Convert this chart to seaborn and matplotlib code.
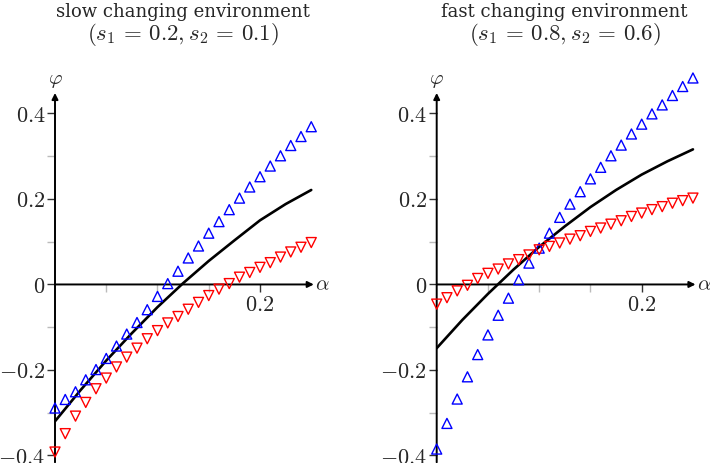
import pandas as pd
import matplotlib.pyplot as plt
import seaborn as sns

# ------------------------------
# Data
# ------------------------------
alpha = [0.00, 0.01, 0.02, 0.03, 0.04, 0.05, 0.06, 0.07, 0.08, 0.09,
         0.10, 0.11, 0.12, 0.13, 0.14, 0.15, 0.16, 0.17, 0.18, 0.19,
         0.20, 0.21, 0.22, 0.23, 0.24, 0.25]
alpha_line = [0.0, 0.025, 0.05, 0.075, 0.1, 0.125, 0.15, 0.175, 0.2, 0.225, 0.25]

slow_up = [-0.289, -0.269, -0.251, -0.223, -0.199, -0.173, -0.144, -0.116, -0.089, -0.059,
           -0.028, 0.002, 0.031, 0.062, 0.090, 0.120, 0.147, 0.175, 0.202, 0.228,
           0.252, 0.277, 0.301, 0.325, 0.346, 0.369]
slow_down = [-0.392, -0.349, -0.308, -0.276, -0.244, -0.219, -0.193, -0.170, -0.149, -0.127,
             -0.108, -0.090, -0.075, -0.058, -0.042, -0.026, -0.011, 0.002, 0.017, 0.028,
             0.040, 0.051, 0.064, 0.076, 0.087, 0.098]
slow_line = [-0.320, -0.247, -0.178, -0.114, -0.053, 0.003, 0.055, 0.103, 0.150, 0.188, 0.221]

fast_up = [-0.385, -0.325, -0.268, -0.216, -0.164, -0.118, -0.072, -0.032, 0.011, 0.050,
           0.085, 0.120, 0.157, 0.188, 0.217, 0.247, 0.274, 0.301, 0.326, 0.352,
           0.375, 0.399, 0.420, 0.442, 0.463, 0.483]
fast_down = [-0.046, -0.031, -0.015, -0.002, 0.014, 0.026, 0.036, 0.048, 0.058, 0.069,
             0.081, 0.089, 0.097, 0.106, 0.114, 0.124, 0.132, 0.141, 0.149, 0.159,
             0.167, 0.175, 0.182, 0.190, 0.196, 0.202]
fast_line = [-0.149, -0.083, -0.022, 0.035, 0.088, 0.136, 0.181, 0.221, 0.257, 0.288, 0.316]

titles = ["slow changing environment", "fast changing environment"]
subtitles = [r"$(s_1\,=\,0.2, s_2\,=\,0.1)$", r"$(s_1\,=\,0.8, s_2\,=\,0.6)$"]

yticks = [-0.4, -0.2, 0.0, 0.2, 0.4]
ytick_labels = [r"$-0.4$", r"$-0.2$", r"$0$", r"$0.2$", r"$0.4$"]
yminor = [-0.3, -0.1, 0.1, 0.3]
xticks = [0.2]
xtick_labels = [r"$0.2$"]
xminor = [0.05, 0.1, 0.15]

# ------------------------------
# Style
# ------------------------------
sns.set_theme(style="white")
plt.rcParams["font.family"] = ["DejaVu Serif"]
plt.rcParams["mathtext.fontset"] = "cm"

fig = plt.figure(figsize=(7.1, 4.63), dpi=100)

XMAX, YMIN, YMAX = 0.27, -0.416, 0.50
panels = [
    (55, slow_up, slow_down, slow_line),
    (436.7, fast_up, fast_down, fast_line),
]

for i, (x0, up, down, line) in enumerate(panels):
    ax = fig.add_axes([x0 / 710, 0.0015, 276.75 / 710, 0.8458])
    ax.set_xlim(0, XMAX)
    ax.set_ylim(YMIN, YMAX)

    df_pts = pd.DataFrame({"alpha": alpha, "up": up, "down": down})
    df_line = pd.DataFrame({"alpha": alpha_line, "phi": line})

    sns.lineplot(data=df_line, x="alpha", y="phi", color="black", linewidth=1.9, ax=ax, zorder=3)
    sns.scatterplot(data=df_pts, x="alpha", y="up", marker="^", s=52, facecolor="none",
                    edgecolor="blue", linewidth=1.0, ax=ax, zorder=4, clip_on=False)
    sns.scatterplot(data=df_pts, x="alpha", y="down", marker="v", s=52, facecolor="none",
                    edgecolor="red", linewidth=1.0, ax=ax, zorder=4, clip_on=False)

    # axes with arrows
    for s in ax.spines.values():
        s.set_visible(False)
    ax.spines["bottom"].set_position(("data", 0))
    ax.annotate("", xy=(0.2525, 0), xytext=(0, 0),
                arrowprops=dict(arrowstyle="-|>", color="black", lw=1.4,
                                mutation_scale=9, shrinkA=0, shrinkB=0), zorder=2)
    ax.annotate("", xy=(0, 0.448), xytext=(0, YMIN),
                arrowprops=dict(arrowstyle="-|>", color="black", lw=1.4,
                                mutation_scale=9, shrinkA=0, shrinkB=0),
                annotation_clip=False, zorder=2)
    ax.text(0.2535, 0, r"$\alpha$", fontsize=15, ha="left", va="center")
    ax.text(0, 0.478, r"$\varphi$", fontsize=15, ha="center", va="center")

    ax.set_yticks(yticks)
    ax.set_yticklabels(ytick_labels)
    ax.set_yticks(yminor, minor=True)
    ax.set_xticks(xticks)
    ax.set_xticklabels(xtick_labels)
    ax.set_xticks(xminor, minor=True)
    ax.tick_params(axis="both", which="major", direction="out", length=6, width=1.0,
                   color="#333333", labelsize=16, pad=1, left=True, bottom=True)
    ax.tick_params(axis="both", which="minor", direction="out", length=6, width=1.0,
                   color="#bbbbbb", left=True, bottom=True)
    ax.set_xlabel("")
    ax.set_ylabel("")

    cx = (x0 + 128) / 710
    fig.text(cx, 1 - 12 / 463, titles[i], fontsize=13, ha="center", va="center")
    fig.text(cx, 1 - 35 / 463, subtitles[i], fontsize=16.5, ha="center", va="center")

plt.savefig("out.png", dpi=100)
